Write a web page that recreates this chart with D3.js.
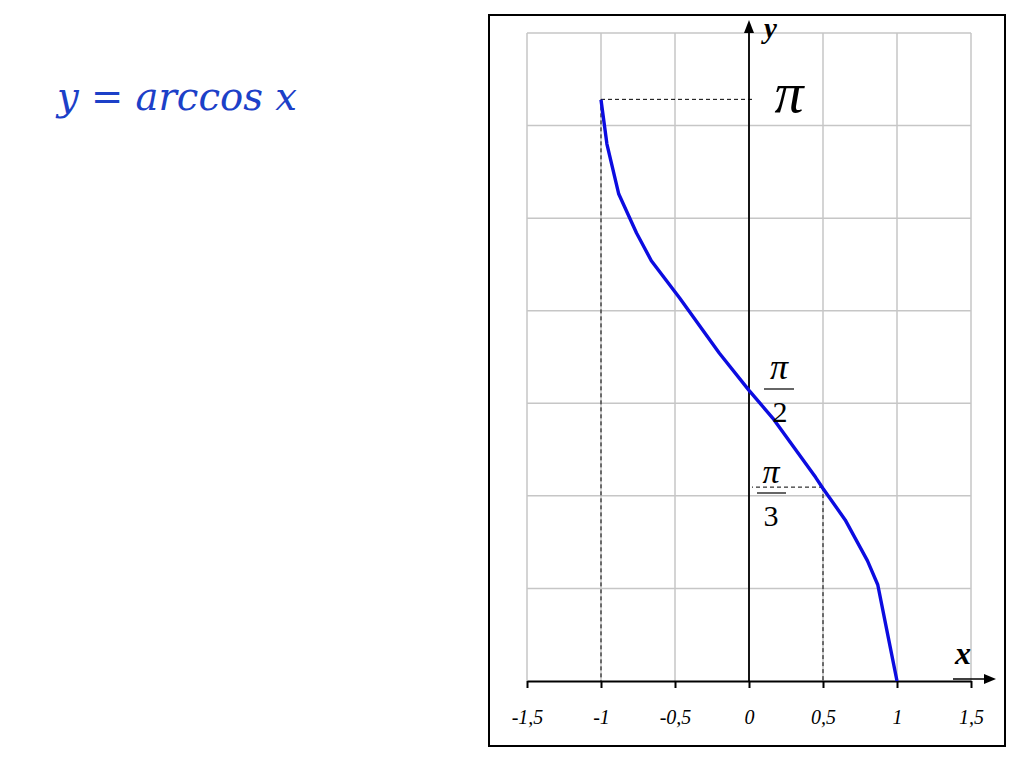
<!DOCTYPE html>
<html>
<head>
<meta charset="utf-8">
<script src="https://cdn.jsdelivr.net/npm/d3@7"></script>
<style>
  html, body { margin: 0; padding: 0; background: #fff; }
  svg { display: block; }
</style>
</head>
<body>
<div id="diagram"></div>
<script>
// values
const curveX = [-1, -0.96, -0.88, -0.76, -0.66, -0.47, -0.2, 0, 0.16, 0.45, 0.5, 0.65, 0.8, 0.87, 0.94, 1];
const curveY = [3.14, 2.90, 2.63, 2.42, 2.27, 2.07, 1.77, 1.57, 1.42, 1.10, 1.04, 0.87, 0.65, 0.52, 0.24, 0];
const xTicks = [-1.5, -1, -0.5, 0, 0.5, 1, 1.5];
const xTickLabels = ['-1,5', '-1', '-0,5', '0', '0,5', '1', '1,5'];
const yGrid = [0.5, 1, 1.5, 2, 2.5, 3, 3.5];
const guideX = [-1, 0.5];
const guideY = [3.1416, 1.0472];

!(function () {
  'use strict';
  let
    svg = undefined,
    xScale = undefined,
    yScale = undefined,
    serif = "'Liberation Serif', 'Times New Roman', serif",
    dvSerif = "'DejaVu Serif', serif",

    setCanvas = undefined,
    setScales = undefined,
    setGrid = undefined,
    setGuides = undefined,
    setAxes = undefined,
    setCurve = undefined,
    setLabels = undefined;

  setCanvas = function (sel) {
    svg = d3.select(sel).append('svg')
      .attr('width', 1024)
      .attr('height', 768);
    svg.append('rect')
      .attr('x', 489).attr('y', 15)
      .attr('width', 516).attr('height', 731)
      .attr('fill', 'none').attr('stroke', '#000').attr('stroke-width', 2);
  };

  setScales = function () {
    xScale = d3.scaleLinear().domain([-1.5, 1.5]).range([527, 971]);
    yScale = d3.scaleLinear().domain([0, 3.5]).range([681, 33]);
  };

  setGrid = function () {
    let g = svg.append('g').attr('stroke', '#c6c6c6').attr('stroke-width', 1.5);
    g.selectAll('line.v').data(xTicks).join('line')
      .attr('class', 'v')
      .attr('x1', d => xScale(d)).attr('x2', d => xScale(d))
      .attr('y1', yScale(0)).attr('y2', yScale(3.5));
    g.selectAll('line.h').data(yGrid).join('line')
      .attr('class', 'h')
      .attr('x1', xScale(-1.5)).attr('x2', xScale(1.5))
      .attr('y1', d => yScale(d)).attr('y2', d => yScale(d));
  };

  setGuides = function () {
    let g = svg.append('g')
      .attr('stroke', '#000').attr('stroke-width', 1).attr('stroke-dasharray', '4,3');
    guideX.forEach(function (gx, i) {
      g.append('line')
        .attr('x1', xScale(gx)).attr('x2', xScale(gx))
        .attr('y1', yScale(guideY[i])).attr('y2', yScale(0));
      g.append('line')
        .attr('x1', xScale(gx)).attr('x2', xScale(0) + 3)
        .attr('y1', yScale(guideY[i])).attr('y2', yScale(guideY[i]));
    });
  };

  setAxes = function () {
    let ax = svg.append('g')
      .attr('transform', 'translate(0, ' + yScale(0) + ')')
      .call(d3.axisBottom(xScale)
        .tickValues(xTicks)
        .tickSize(7)
        .tickSizeOuter(0)
        .tickPadding(22)
        .tickFormat((d, i) => xTickLabels[i]));
    ax.select('.domain').attr('stroke-width', 2);
    ax.selectAll('.tick line').attr('stroke-width', 2);
    ax.selectAll('.tick text')
      .attr('font-family', serif)
      .attr('font-style', 'italic')
      .attr('font-size', 20)
      .attr('fill', '#000');

    // x arrow
    svg.append('line')
      .attr('x1', 953).attr('x2', 990)
      .attr('y1', yScale(0) - 2).attr('y2', yScale(0) - 2)
      .attr('stroke', '#000').attr('stroke-width', 1.5);
    svg.append('path')
      .attr('d', 'M984,' + (yScale(0) - 7) + ' L996,' + (yScale(0) - 2) + ' L984,' + (yScale(0) + 3) + ' Z')
      .attr('fill', '#000');

    // y axis
    svg.append('line')
      .attr('x1', xScale(0)).attr('x2', xScale(0))
      .attr('y1', yScale(0)).attr('y2', 26)
      .attr('stroke', '#000').attr('stroke-width', 1.8);
    svg.append('path')
      .attr('d', 'M' + (xScale(0) - 5) + ',33 L' + xScale(0) + ',20 L' + (xScale(0) + 5) + ',33 Z')
      .attr('fill', '#000');
  };

  setCurve = function () {
    let pts = curveX.map((x, i) => [x, curveY[i]]);
    svg.append('path')
      .datum(pts)
      .attr('fill', 'none')
      .attr('stroke', '#0c0ce0')
      .attr('stroke-width', 3.4)
      .attr('stroke-linejoin', 'round')
      .attr('d', d3.line().x(d => xScale(d[0])).y(d => yScale(d[1])));
  };

  setLabels = function () {
    svg.append('text')
      .attr('x', 57).attr('y', 110)
      .attr('font-family', dvSerif).attr('font-style', 'italic')
      .attr('font-size', 38.5).attr('fill', '#1c40c8')
      .text('y = arccos x');

    svg.append('text')
      .attr('x', 764).attr('y', 38)
      .attr('font-family', serif).attr('font-style', 'italic').attr('font-weight', 'bold')
      .attr('font-size', 29)
      .text('y');
    svg.append('text')
      .attr('x', 955).attr('y', 664)
      .attr('font-family', serif).attr('font-style', 'italic').attr('font-weight', 'bold')
      .attr('font-size', 32)
      .text('x');

    svg.append('text')
      .attr('x', 789).attr('y', 112).attr('text-anchor', 'middle')
      .attr('font-family', serif).attr('font-style', 'italic')
      .attr('font-size', 58)
      .text('π');

    // π/2
    svg.append('text')
      .attr('x', 779).attr('y', 379).attr('text-anchor', 'middle')
      .attr('font-family', serif).attr('font-style', 'italic').attr('font-size', 36)
      .text('π');
    svg.append('line')
      .attr('x1', 764).attr('x2', 794).attr('y1', 389).attr('y2', 389)
      .attr('stroke', '#000').attr('stroke-width', 1.2);
    svg.append('text')
      .attr('x', 780).attr('y', 422).attr('text-anchor', 'middle')
      .attr('font-family', serif).attr('font-size', 30)
      .text('2');

    // π/3
    svg.append('text')
      .attr('x', 771).attr('y', 483).attr('text-anchor', 'middle')
      .attr('font-family', serif).attr('font-style', 'italic').attr('font-size', 34)
      .text('π');
    svg.append('line')
      .attr('x1', 757).attr('x2', 786).attr('y1', 493).attr('y2', 493)
      .attr('stroke', '#000').attr('stroke-width', 1.2);
    svg.append('text')
      .attr('x', 771).attr('y', 526).attr('text-anchor', 'middle')
      .attr('font-family', serif).attr('font-size', 30)
      .text('3');
  };

  setCanvas('#diagram');
  setScales();
  setGrid();
  setGuides();
  setAxes();
  setCurve();
  setLabels();
}());
</script>
</body>
</html>
